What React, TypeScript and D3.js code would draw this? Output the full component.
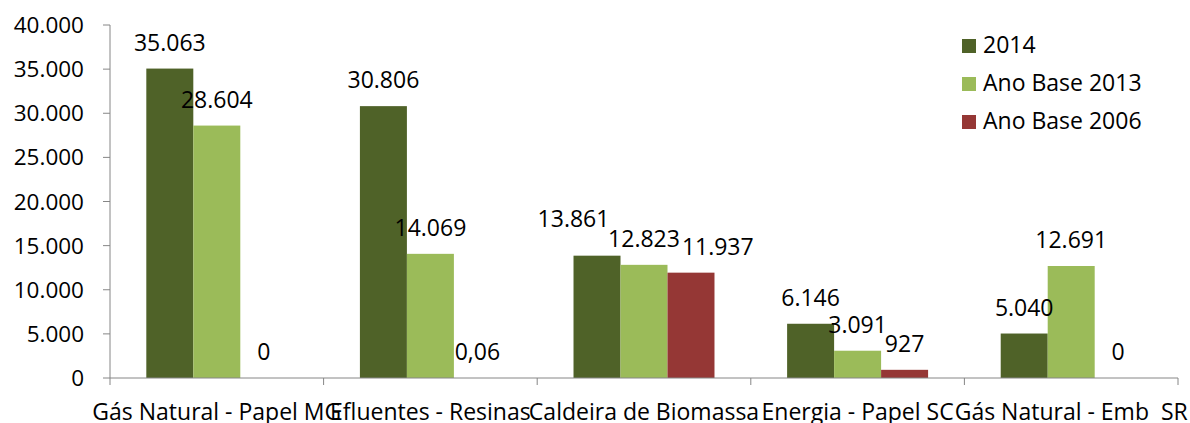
import React from "react";
import * as d3 from "d3";

const categories = [
  "Gás Natural - Papel MG",
  "Efluentes - Resinas",
  "Caldeira de Biomassa",
  "Energia - Papel SC",
  "Gás Natural - Emb  SR",
];
const seriesNames = ["2014", "Ano Base 2013", "Ano Base 2006"];
const values2014 = [35063, 30806, 13861, 6146, 5040];
const values2013 = [28604, 14069, 12823, 3091, 12691];
const values2006 = [0, 0.06, 11937, 927, 0];
const labels2014 = ["35.063", "30.806", "13.861", "6.146", "5.040"];
const labels2013 = ["28.604", "14.069", "12.823", "3.091", "12.691"];
const labels2006 = ["0", "0,06", "11.937", "927", "0"];
const yTicks = [0, 5000, 10000, 15000, 20000, 25000, 30000, 35000, 40000];
const colors = ["#4F6228", "#9BBB59", "#953735"];

const W = 1190;
const H = 423;
const left = 110;
const right = 1178;
const top = 25;
const bottom = 378;
const font = "'Open Sans', sans-serif";

// manual label nudges (in units of bar width / pixels) as in the source chart
const labelDx = [
  [0, 0, -0.5, 0, 0],
  [0, 0, 0, 0, 0],
  [0, 0, 0.57, 0, 0],
];
const labelDy = [
  [0, 0, -11, 0, 0],
  [0, 0, 0, 0, 0],
  [0, 0, 0, 0, 0],
];

export default function App() {
  const x0 = d3.scaleBand<string>().domain(categories).range([left, right]).paddingInner(0.34).paddingOuter(0.17);
  const x1 = d3.scaleBand<string>().domain(seriesNames).range([0, x0.bandwidth()]);
  const y = d3.scaleLinear().domain([0, 40000]).range([bottom, top]);
  const fmt = (v: number) => d3.format(",")(v).replace(/,/g, ".");
  const series = [values2014, values2013, values2006];
  const labels = [labels2014, labels2013, labels2006];
  const step = (right - left) / categories.length;
  const bw = x1.bandwidth();

  return (
    <svg width={W} height={H} style={{ position: "absolute", left: 0, top: 0, background: "#fff" }}>
      {categories.map((c, i) => (
        <g key={c}>
          {series.map((s, k) => (
            <rect
              key={k}
              x={(x0(c) as number) + (x1(seriesNames[k]) as number)}
              y={y(s[i])}
              width={bw}
              height={bottom - y(s[i])}
              fill={colors[k]}
            />
          ))}
        </g>
      ))}
      <line x1={left} x2={left} y1={top} y2={bottom} stroke="#868686" strokeWidth={1} />
      <line x1={left} x2={right} y1={bottom} y2={bottom} stroke="#868686" strokeWidth={1} />
      {yTicks.map((t) => (
        <g key={t}>
          <line x1={left - 7} x2={left} y1={y(t)} y2={y(t)} stroke="#868686" />
          <text x={84} y={y(t) + 8} textAnchor="end" fontFamily={font} fontSize={22.5} fill="#000">
            {fmt(t)}
          </text>
        </g>
      ))}
      {d3.range(categories.length + 1).map((i) => (
        <line key={i} x1={left + i * step} x2={left + i * step} y1={bottom} y2={bottom + 7} stroke="#868686" />
      ))}
      {categories.map((c) => (
        <text
          key={c}
          x={(x0(c) as number) + x0.bandwidth() / 2}
          y={420}
          textAnchor="middle"
          fontFamily={font}
          fontSize={23}
          fill="#000"
          style={{ whiteSpace: "pre" }}
        >
          {c}
        </text>
      ))}
      {categories.map((c, i) => (
        <g key={c + "l"}>
          {series.map((s, k) => (
            <text
              key={k}
              x={(x0(c) as number) + (x1(seriesNames[k]) as number) + bw / 2 + labelDx[k][i] * bw}
              y={y(s[i]) - 18 + labelDy[k][i]}
              textAnchor="middle"
              fontFamily={font}
              fontSize={23}
              fill="#000"
            >
              {labels[k][i]}
            </text>
          ))}
        </g>
      ))}
      {seriesNames.map((n, k) => (
        <g key={n}>
          <rect x={962} y={39 + k * 38} width={14} height={14} fill={colors[k]} />
          <text x={983} y={53 + k * 38} fontFamily={font} fontSize={23} fill="#000">
            {n}
          </text>
        </g>
      ))}
    </svg>
  );
}
